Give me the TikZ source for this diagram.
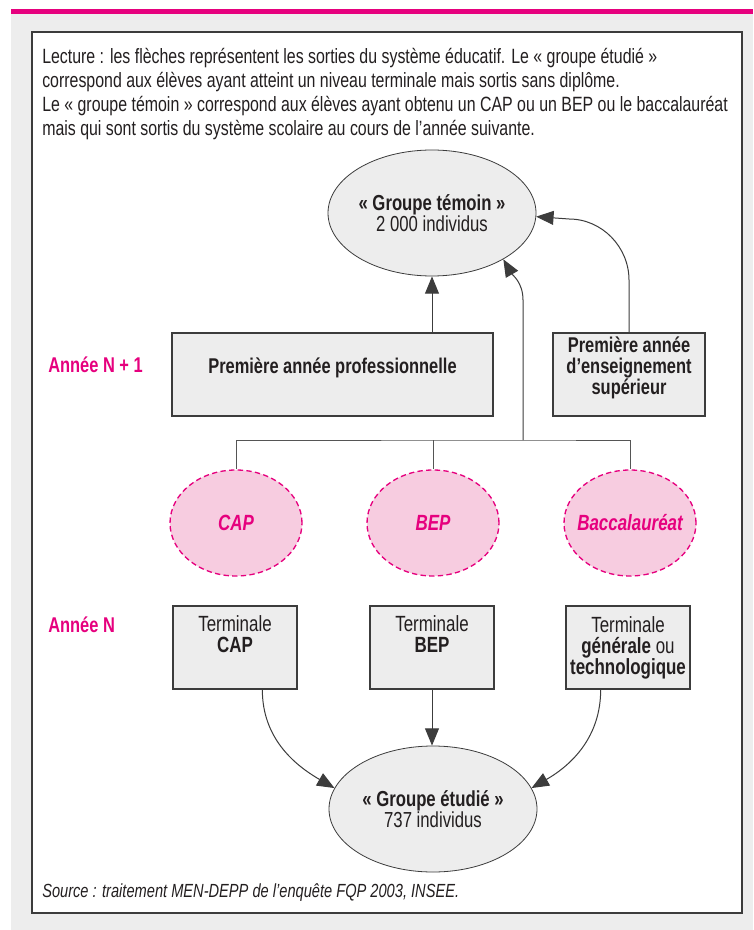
\documentclass[tikz,border=0pt]{standalone}
\usepackage{fontspec}
\setmainfont{Liberation Sans}[FakeStretch=0.77]
\usetikzlibrary{arrows.meta,shapes.geometric}
\definecolor{mag}{HTML}{E6007E}
\definecolor{pinkfill}{HTML}{F7CCE0}
\definecolor{bggrey}{HTML}{EDEDED}
\definecolor{boxgrey}{HTML}{EDEDED}
\definecolor{ink}{HTML}{231F20}
\definecolor{edge}{HTML}{3C3C3C}
\definecolor{connc}{HTML}{555555}
\begin{document}
\begin{tikzpicture}[x=0.75pt,y=-0.75pt,
  every node/.style={text=ink, font=\fontsize{16}{15.75}\selectfont},
  greybox/.style={draw=edge, line width=0.85pt, fill=boxgrey, inner sep=0pt},
  oval/.style={ellipse, draw=edge, line width=0.6pt, fill=boxgrey, inner sep=0pt,
    minimum width=156pt, minimum height=94.5pt, align=center,
    font=\fontsize{16.3}{15.8}\selectfont},
  dip/.style={ellipse, draw=mag, dash pattern=on 4pt off 2.5pt, line width=1pt,
    fill=pinkfill, minimum width=99pt, minimum height=79.5pt, inner sep=0pt,
    text=mag, font=\fontsize{16.5}{16}\selectfont\bfseries\itshape},
  arr/.style={draw=edge, line width=0.75pt, -{Triangle[length=13pt,width=10.5pt]}},
  conn/.style={draw=connc, line width=0.75pt},
  yearlbl/.style={anchor=west, inner sep=0pt, text=mag, font=\fontsize{16}{16}\selectfont\bfseries}
]
\useasboundingbox (0,0) rectangle (753,930);
\fill[white] (0,0) rectangle (753,930);
\fill[bggrey] (11,14) rectangle (753,930);
\fill[mag] (11,9) rectangle (753,14.5);
\draw[edge, line width=0.8pt, fill=white] (32,32) rectangle (742,913);

\node[anchor=north west, align=left, inner sep=0pt,
  font=\fontsize{15.5}{17.8}\selectfont] (lecture) at (42,48.5)
  {Lecture : les flèches représentent les sorties du système éducatif. Le « groupe étudié »\\
   correspond aux élèves ayant atteint un niveau terminale mais sortis sans diplôme.\\
   Le « groupe témoin » correspond aux élèves ayant obtenu un CAP ou un BEP ou le baccalauréat\\
   mais qui sont sortis du système scolaire au cours de l’année suivante.};

\node[oval] (temoin) at (432,213) {\textbf{« Groupe témoin »}\\2~000 individus};

\node[greybox, minimum width=240.75pt, minimum height=62.25pt,
  label={[yshift=5.25pt, font=\fontsize{16}{16}\selectfont\bfseries]center:Première année professionnelle}]
  (pro) at (332.5,374.5) {};
\node[greybox, minimum width=114pt, minimum height=62.25pt,
  label={[yshift=4.9pt, align=center, font=\fontsize{16}{15.75}\selectfont\bfseries]center:Première année\\d’enseignement\\supérieur}]
  (sup) at (629,374.5) {};

\node[yearlbl] (n1) at (48,365) {Année N + 1};
\node[yearlbl] (n0) at (48,625) {Année N};

\node[dip] (dcap) at (236,523) {\makebox[0pt][c]{CAP}};
\node[dip] (dbep) at (433,523) {\makebox[0pt][c]{BEP}};
\node[dip] (dbac) at (630,523) {\makebox[0pt][c]{Baccalauréat}};

\node[greybox, minimum width=93pt, minimum height=62.25pt, align=center, font=\fontsize{16.5}{15.75}\selectfont]
  (tcap) at (235,647.5) {Terminale\\\textbf{CAP}\\\strut};
\node[greybox, minimum width=93pt, minimum height=62.25pt, align=center, font=\fontsize{16.5}{15.75}\selectfont]
  (tbep) at (432,647.5) {Terminale\\\textbf{BEP}\\\strut};
\node[greybox, minimum width=93pt, minimum height=62.25pt, align=center, font=\fontsize{16.5}{15.75}\selectfont]
  (tbac) at (628,647.5) {Terminale\\\textbf{générale} ou\\\textbf{technologique}};

\node[oval] (etudie) at (433,809) {\textbf{« Groupe étudié »}\\737 individus};

\node[anchor=west, inner sep=0pt, font=\fontsize{14.25}{16}\selectfont\itshape] (src) at (42,893)
  {Source : traitement MEN-DEPP de l’enquête FQP 2003, INSEE.};

% connectors
\coordinate (j) at (523,440);
\draw[conn] (dcap.north) |- (j) -| (dbac.north);
\draw[conn] (dbep.north) -- (dbep.north |- j);
\draw[arr] (j) -- (523,300) to[out=90,in=-60] (temoin.-33);
\draw[arr] (temoin.south |- pro.north) -- (temoin.south);
\draw[arr] (sup.north) -- (629,280) .. controls (629,247) and (602,219) .. (569,219) -- (temoin.-2.5);

\draw[arr] (tcap.-57) to[out=-90,in=150] (etudie.168);
\draw[arr] (tbep.south) -- (tbep.south |- etudie.north);
\draw[arr] (tbac.-123) to[out=-90,in=30] (etudie.12);
\end{tikzpicture}
\end{document}
